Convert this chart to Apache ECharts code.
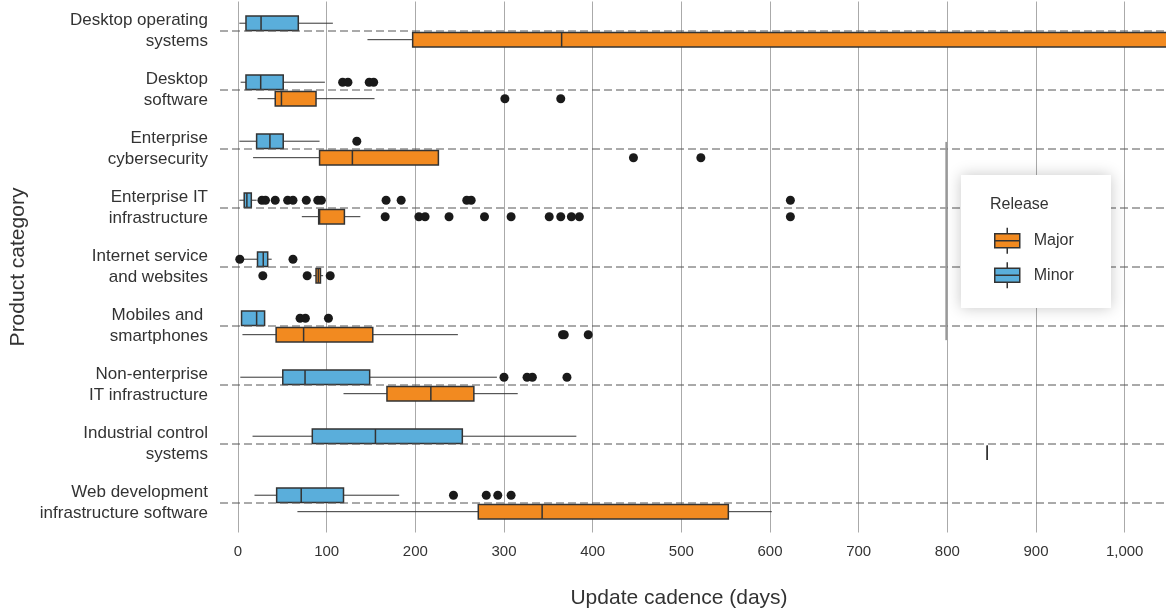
<!DOCTYPE html>
<html>
<head>
<meta charset="utf-8">
<script src="https://cdn.jsdelivr.net/npm/echarts@6/dist/echarts.min.js"></script>
<style>
  html, body { margin: 0; padding: 0; background: #fff; }
  #chart { width: 1166px; height: 614px; }
</style>
</head>
<body>
<div id="chart"></div>
<script>
// Product categories, top to bottom
const categories = [
  'Desktop operating\nsystems',
  'Desktop\nsoftware',
  'Enterprise\ncybersecurity',
  'Enterprise IT\ninfrastructure',
  'Internet service\nand websites',
  'Mobiles and \nsmartphones',
  'Non-enterprise\nIT infrastructure',
  'Industrial control\nsystems',
  'Web development\ninfrastructure software'
];

// Box statistics per category: [low whisker, Q1, median, Q3, high whisker] in days
const minorBoxes = [
  [1.5, 9, 26, 68, 107],
  [3, 9, 25.6, 51, 98],
  [1.5, 21, 36, 51, 92],
  [1.5, 7, 10, 15, 21],
  [5, 22, 28.5, 33.5, 38],
  [4, 4, 21, 30, 30],
  [2.6, 50.5, 75.6, 148.5, 292],
  [16.4, 83.8, 155, 253, 381.6],
  [18.6, 43.6, 71.3, 119, 181.8]
];
const majorBoxes = [
  [146, 197, 365, 1150, 1200],
  [22, 42, 49, 88, 154],
  [17, 92, 129, 226, 226],
  [72, 91, 92, 120, 138],
  [85, 88, 90.6, 93, 96],
  [5, 43, 74, 152, 248],
  [119, 168, 217.5, 266, 315.5],
  [845, 845, 845, 845, 845],
  [67, 271, 343, 553, 602]
];

// Outlying update cadences (days) per category
const minorOutliers = [
  [],
  [118, 124, 148, 153],
  [134],
  [27, 31, 42, 56, 62, 77, 90, 94, 167, 184, 258, 263, 623],
  [2, 62],
  [70, 76, 102],
  [300, 326, 332, 371],
  [],
  [243, 280, 293, 308]
];
const majorOutliers = [
  [],
  [301, 364],
  [446, 522],
  [166, 204, 211, 238, 278, 308, 351, 364, 376, 385, 623],
  [28, 78, 104],
  [366, 368, 395],
  [],
  [],
  []
];

// Axis ticks
const tickMin = 0;
const tickMax = 1050;
const tickStep = 100;

// Highlighted reference level (days) and the category span it covers
const refLine = [800, 2, 5];

const MINOR_COLOR = '#5aaedb';
const MAJOR_COLOR = '#f28a20';
const EDGE = '#333333';
const MINOR_SHIFT = -0.132;   // fraction of category band
const MAJOR_SHIFT = 0.147;
const BOX_FRAC = 0.245;
const FONT = '"Liberation Sans", Arial, Helvetica, sans-serif';

function toBoxData(boxes) {
  return boxes.map((b, i) => [i].concat(b));
}
function toPointData(lists) {
  const out = [];
  lists.forEach((vals, i) => vals.forEach(v => out.push([v, i])));
  return out;
}

function boxRenderer(shift, color) {
  return function (params, api) {
    const cat = api.value(0);
    const band = api.size([0, 1])[1];
    const yc = api.coord([0, cat])[1] + shift * band;
    const h = band * BOX_FRAC;
    const px = idx => api.coord([api.value(idx), cat])[0];
    const lo = px(1), q1 = px(2), med = px(3), q3 = px(4), hi = px(5);
    const whisker = { stroke: EDGE, lineWidth: 1 };
    return {
      type: 'group',
      children: [
        { type: 'line', shape: { x1: lo, y1: yc, x2: q1, y2: yc }, style: whisker },
        { type: 'line', shape: { x1: q3, y1: yc, x2: hi, y2: yc }, style: whisker },
        { type: 'rect', shape: { x: q1, y: yc - h / 2, width: q3 - q1, height: h },
          style: { fill: color, stroke: EDGE, lineWidth: 1.5 } },
        { type: 'line', shape: { x1: med, y1: yc - h / 2, x2: med, y2: yc + h / 2 },
          style: { stroke: EDGE, lineWidth: 1.5 } }
      ]
    };
  };
}

const boxIcon = 'path://M0,6 L25,6 L25,20 L0,20 Z M0,13 L25,13 M12.5,0 L12.5,6 M12.5,20 L12.5,26';

const chart = echarts.init(document.getElementById('chart'), null, { renderer: 'canvas' });

chart.setOption({
  animation: false,
  backgroundColor: '#ffffff',
  textStyle: { fontFamily: FONT },
  grid: { left: 238, right: -3, top: 1.5, bottom: 81.5, containLabel: false, outerBoundsMode: 'none' },
  xAxis: {
    type: 'value',
    min: tickMin,
    max: tickMax,
    interval: tickStep,
    name: 'Update cadence (days)',
    nameLocation: 'middle',
    nameGap: 55,
    nameTextStyle: { fontSize: 21, color: '#333', fontFamily: FONT, padding: [0, 49, 0, 0] },
    axisLine: { show: false },
    axisTick: { show: false },
    axisLabel: {
      color: '#333',
      fontSize: 15,
      fontFamily: FONT,
      margin: 12,
      showMaxLabel: false,
      formatter: v => v.toLocaleString('en-US')
    },
    splitLine: { show: true, lineStyle: { color: '#aaaaaa', width: 1 } }
  },
  yAxis: {
    type: 'category',
    data: categories,
    inverse: true,
    name: 'Product category',
    nameLocation: 'middle',
    nameGap: 209,
    nameTextStyle: { fontSize: 21, color: '#333', fontFamily: FONT },
    axisLine: { show: false },
    axisTick: { show: false },
    splitLine: { show: false },
    axisLabel: { color: '#333', fontSize: 17, fontFamily: FONT, lineHeight: 21, margin: 30, align: 'right' }
  },
  legend: {
    data: ['Major', 'Minor'],
    orient: 'vertical',
    left: 994,
    top: 227,
    itemWidth: 25,
    itemHeight: 26,
    itemGap: 7,
    padding: 0,
    icon: boxIcon,
    z: 101,
    selectedMode: false,
    itemStyle: { borderColor: EDGE, borderWidth: 1.5 },
    textStyle: { fontSize: 16, color: '#333', fontFamily: FONT, padding: [0, 0, 0, 9] }
  },
  graphic: [
    {
      type: 'rect',
      z: 100,
      shape: { x: 961, y: 175, width: 150, height: 133 },
      style: { fill: '#ffffff', shadowBlur: 14, shadowColor: 'rgba(0,0,0,0.22)' }
    },
    {
      type: 'text',
      z: 101,
      x: 990,
      y: 205,
      style: { text: 'Release', fill: '#333', fontSize: 16, verticalAlign: 'middle', fontFamily: FONT }
    }
  ],
  series: [
    {
      name: 'Minor',
      type: 'custom',
      renderItem: boxRenderer(MINOR_SHIFT, MINOR_COLOR),
      itemStyle: { color: MINOR_COLOR },
      encode: { y: 0, x: [1, 2, 3, 4, 5] },
      data: toBoxData(minorBoxes),
      z: 2
    },
    {
      name: 'Major',
      type: 'custom',
      renderItem: boxRenderer(MAJOR_SHIFT, MAJOR_COLOR),
      itemStyle: { color: MAJOR_COLOR },
      encode: { y: 0, x: [1, 2, 3, 4, 5] },
      data: toBoxData(majorBoxes),
      z: 2
    },
    {
      name: 'category rules',
      type: 'custom',
      clip: false,
      silent: true,
      z: 3,
      encode: { x: 0, y: 1 },
      data: categories.map((c, i) => [0, i]),
      renderItem: function (params, api) {
        const cs = params.coordSys;
        const y = api.coord([0, api.value(1)])[1];
        return {
          type: 'line',
          shape: { x1: cs.x - 18, y1: y, x2: cs.x + cs.width, y2: y },
          style: { stroke: '#555', lineWidth: 1, lineDash: [8, 4] }
        };
      }
    },
    {
      name: 'reference level',
      type: 'custom',
      silent: true,
      z: 3,
      encode: { x: 0, y: [1, 2] },
      data: [refLine],
      renderItem: function (params, api) {
        const band = api.size([0, 1])[1];
        const top = api.coord([api.value(0), api.value(1)]);
        const bottom = api.coord([api.value(0), api.value(2)]);
        return {
          type: 'line',
          shape: { x1: top[0] - 1, y1: top[1] - 0.12 * band, x2: bottom[0] - 1, y2: bottom[1] + 0.24 * band },
          style: { stroke: '#999', lineWidth: 2 }
        };
      }
    },
    {
      name: 'Minor outliers',
      type: 'scatter',
      symbolSize: 9,
      symbolOffset: [0, -7.8],
      itemStyle: { color: '#1a1a1a', opacity: 1 },
      data: toPointData(minorOutliers),
      z: 4
    },
    {
      name: 'Major outliers',
      type: 'scatter',
      symbolSize: 9,
      symbolOffset: [0, 8.7],
      itemStyle: { color: '#1a1a1a', opacity: 1 },
      data: toPointData(majorOutliers),
      z: 4
    }
  ]
});
</script>
</body>
</html>
